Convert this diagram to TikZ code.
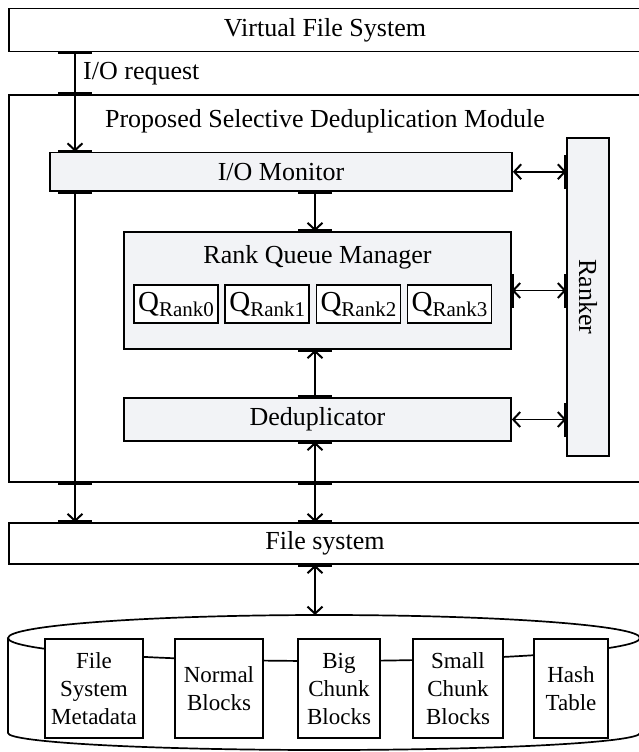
\documentclass[tikz,border=0pt]{standalone}
\usepackage{fontspec}
\setmainfont{Liberation Serif}
\usepackage{tikz}
\usetikzlibrary{arrows.meta,positioning}
\definecolor{panel}{RGB}{242,243,246}
\tikzstyle{layer} = [rectangle, draw=black, line width=1.7pt, fill=white, inner sep=0pt, text centered, font=\fontsize{26}{30}\selectfont]
\tikzstyle{unit} = [layer, fill=panel]
\tikzstyle{queue} = [layer, minimum width=84pt, minimum height=38pt, font=\fontsize{29}{30}\selectfont]
\tikzstyle{store} = [layer, minimum height=99pt, align=center, font=\fontsize{23}{28}\selectfont]
\tikzstyle{caption} = [inner sep=0pt, font=\fontsize{26}{30}\selectfont]
\tikzstyle{tedge} = [draw, line width=1.7pt, -{Straight Barb[length=7pt,width=15pt,line width=2pt]}]
\tikzstyle{bedge} = [tedge, {Straight Barb[length=7pt,width=15pt,line width=2pt]}-{Straight Barb[length=7pt,width=15pt,line width=2pt]}]
\tikzstyle{glue} = [draw, line width=3.5pt]
\newcommand{\qrank}[1]{Q\raisebox{-5pt}{\fontsize{21}{21}\selectfont Rank#1}}

\begin{document}
\begin{tikzpicture}[x=1pt, y=-1pt]
\useasboundingbox (0,0) rectangle (639,752);

% layers =============================

\node[layer, minimum width=632pt, minimum height=43pt] (vfs) at (325,30) {Virtual File System};
\node[caption, anchor=base west] (req) at (83,80) {I/O request};
\node[layer, fill=none, minimum width=632pt, minimum height=387pt] (module) at (325,288.5) {};
\node[caption, anchor=base] (modtitle) at (325,127) {Proposed Selective Deduplication Module};
\node[layer, minimum width=632pt, minimum height=41pt] (fs) at (325,543.5) {File system};

% module parts
\node[unit, minimum width=462pt, minimum height=38.5pt] (iomon) at (281,171.75) {I/O Monitor};
\node[unit, minimum width=387pt, minimum height=117pt] (rqm) at (317.5,290.5) {};
\node[caption, anchor=base] (rqmtitle) at (317.5,263) {Rank Queue Manager};
\node[unit, minimum width=387pt, minimum height=43pt] (dedup) at (317.5,419.5) {Deduplicator};
\node[unit, minimum width=42pt, minimum height=318pt] (ranker) at (588,297) {\rotatebox{-90}{Ranker}};

% queues
\node[queue] (q0) at (176,304) {\qrank{0}};
\node[queue, right=5.5pt of q0] (q1) {\qrank{1}};
\node[queue, right=5.5pt of q1] (q2) {\qrank{2}};
\node[queue, right=5.5pt of q2] (q3) {\qrank{3}};

% disk
\draw[line width=1.7pt] (324,638) ellipse [x radius=316pt, y radius=23pt];
\draw[line width=1.7pt] (8,638) -- (8,733) arc [start angle=180, end angle=360, x radius=316pt, y radius=17pt] -- (640,638);
\coordinate (disk) at (315,615);

\node[store, minimum width=98pt] (meta) at (94,688.5) {File\\System\\Metadata};
\node[store, minimum width=88pt] (normal) at (219,688.5) {Normal\\Blocks};
\node[store, minimum width=82pt] (big) at (339,688.5) {Big\\Chunk\\Blocks};
\node[store, minimum width=90pt] (small) at (458,688.5) {Small\\Chunk\\Blocks};
\node[store, minimum width=74pt] (hash) at (571,688.5) {Hash\\Table};

%edges
\coordinate (lane) at (75,0);
\coordinate (spine) at (315,0);

\path[tedge] (vfs.south -| lane) -- (iomon.north -| lane);
\path[tedge] (iomon.south -| lane) -- (fs.north -| lane);
\path[tedge] (iomon.south -| spine) -- (rqm.north -| spine);
\path[tedge] (dedup.north -| spine) -- (rqm.south -| spine);
\path[bedge] (dedup.south -| spine) -- (fs.north -| spine);
\path[bedge] (fs.south -| spine) -- (disk);

\path[bedge] (iomon.east) -- (iomon.east -| ranker.west);
\path[bedge] (rqm.east) -- (rqm.east -| ranker.west);
\path[bedge] (dedup.east) -- (dedup.east -| ranker.west);

% connection marks
\foreach \p in {vfs.south -| lane, module.north -| lane, iomon.north -| lane,
                iomon.south -| lane, module.south -| lane, fs.north -| lane,
                iomon.south -| spine, rqm.north -| spine, rqm.south -| spine,
                dedup.north -| spine, dedup.south -| spine, module.south -| spine,
                fs.north -| spine, fs.south -| spine}
  \path[glue] ([xshift=-17pt]\p) -- ([xshift=17pt]\p);
\foreach \p in {iomon.east -| ranker.west, rqm.east -| ranker.west,
                dedup.east -| ranker.west, rqm.east}
  \path[glue] ([yshift=-17pt]\p) -- ([yshift=17pt]\p);

\end{tikzpicture}
\end{document}
